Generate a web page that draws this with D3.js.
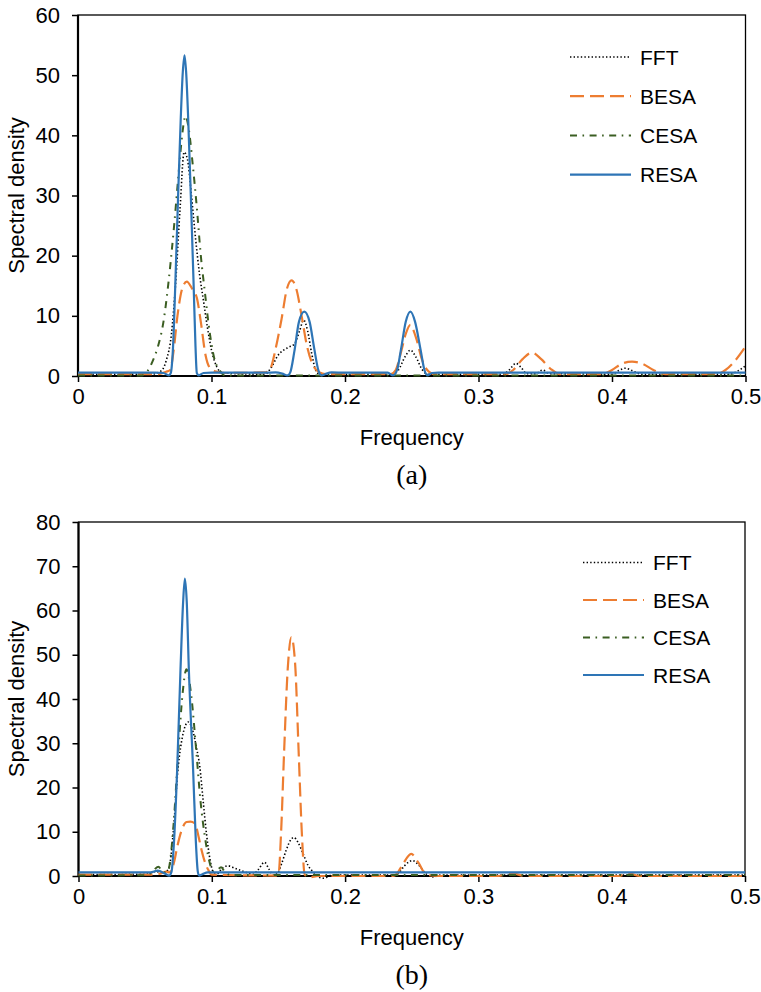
<!DOCTYPE html>
<html>
<head>
<meta charset="utf-8">
<script src="https://cdn.jsdelivr.net/npm/d3@7"></script>
<style>
    body { margin: 0; background: #fff; }
    svg text { font-family: "Liberation Sans", Arial, Helvetica, sans-serif; fill: #000; }
</style>
</head>
<body>
<div id="chart"></div>
<script>
// series names and legend order
const seriesNames = ["FFT", "BESA", "CESA", "RESA"];
const freqTicks = [0, 0.1, 0.2, 0.3, 0.4, 0.5];
const densityTicksA = [0, 10, 20, 30, 40, 50, 60];
const densityTicksB = [0, 10, 20, 30, 40, 50, 60, 70, 80];

// panel (a): [frequency, spectral density]
const fftA = [[0, 0.3], [0.055, 0.3], [0.062, 0.8], [0.066, 2.5], [0.07, 7], [0.073, 15], [0.0765, 28], [0.0795, 37.2], [0.082, 36], [0.085, 30], [0.088, 23], [0.091, 17], [0.094, 12.5], [0.097, 8], [0.1, 4.3], [0.104, 1.5], [0.108, 0.5], [0.14, 0.3], [0.145, 1.5], [0.15, 3.5], [0.154, 4.3], [0.158, 4.8], [0.162, 5.3], [0.166, 7.5], [0.169, 9.3], [0.172, 7.5], [0.175, 3.8], [0.178, 1], [0.181, 0.3], [0.236, 0.3], [0.24, 1], [0.245, 3.2], [0.249, 4.3], [0.253, 3.2], [0.258, 1], [0.262, 0.3], [0.318, 0.3], [0.323, 1], [0.328, 2.1], [0.332, 1.4], [0.336, 0.4], [0.343, 0.4], [0.348, 1], [0.353, 0.4], [0.4, 0.3], [0.405, 0.9], [0.41, 1.3], [0.416, 0.8], [0.422, 0.3], [0.488, 0.3], [0.494, 0.8], [0.5, 1.7]];
const besaA = [[0, 0.3], [0.06, 0.3], [0.066, 0.7], [0.069, 1], [0.0715, 4], [0.0745, 10], [0.078, 14.5], [0.0815, 15.7], [0.0855, 14.5], [0.089, 13], [0.092, 9], [0.0955, 3.5], [0.099, 1.3], [0.104, 0.7], [0.11, 0.5], [0.14, 0.6], [0.144, 1.2], [0.148, 4.5], [0.1525, 9.5], [0.1565, 14.5], [0.16, 15.9], [0.1635, 14.5], [0.1675, 10], [0.1715, 5], [0.176, 1.8], [0.181, 0.6], [0.186, 0.3], [0.234, 0.3], [0.238, 1], [0.242, 4], [0.2455, 7], [0.249, 8.5], [0.253, 6.5], [0.258, 2.5], [0.263, 0.7], [0.268, 0.3], [0.32, 0.3], [0.326, 1], [0.333, 2.8], [0.34, 3.9], [0.347, 2.8], [0.354, 1.2], [0.361, 0.3], [0.392, 0.3], [0.4, 1], [0.407, 2], [0.415, 2.4], [0.423, 2], [0.431, 1], [0.44, 0.3], [0.478, 0.3], [0.485, 1], [0.492, 2.5], [0.5, 4.9]];
const cesaA = [[0, 0.1], [0.048, 0.1], [0.052, 0.8], [0.056, 2.5], [0.06, 5], [0.064, 9], [0.068, 16], [0.072, 25], [0.0755, 34], [0.078, 40], [0.0805, 43.2], [0.083, 41], [0.086, 35], [0.089, 28], [0.092, 20], [0.095, 14], [0.0985, 7.5], [0.102, 3], [0.106, 1], [0.11, 0.1], [0.5, 0.1]];
const resaA = [[0, 0.55], [0.058, 0.55], [0.064, 0.5], [0.068, 0.1], [0.0695, 0.5], [0.071, 4], [0.073, 16], [0.075, 30], [0.077, 43], [0.0785, 50.5], [0.0798, 53.3], [0.081, 50.5], [0.0825, 43], [0.0845, 30], [0.0865, 16], [0.088, 5], [0.089, 0.5], [0.0905, 0.1], [0.094, 0.5], [0.1, 0.55], [0.14, 0.55], [0.148, 0.6], [0.153, 0.4], [0.157, 0.1], [0.159, 0.6], [0.162, 4], [0.1655, 9], [0.1695, 10.7], [0.1735, 9], [0.177, 4.5], [0.18, 1], [0.1825, 0.1], [0.185, 0.3], [0.19, 0.6], [0.2, 0.55], [0.232, 0.55], [0.236, 0.1], [0.239, 1], [0.242, 4.5], [0.2455, 9], [0.249, 10.7], [0.2525, 9], [0.2565, 4.5], [0.2595, 1], [0.262, 0.1], [0.265, 0.5], [0.27, 0.55], [0.5, 0.55]];

// panel (b)
const fftB = [[0, 0], [0.01, 0.3], [0.05, 0.4], [0.058, 1], [0.064, 0.6], [0.068, 2], [0.071, 9.6], [0.0748, 24.7], [0.078, 31.5], [0.0823, 34.8], [0.086, 32.5], [0.0885, 29], [0.091, 24.7], [0.0935, 17], [0.096, 9.6], [0.0985, 4], [0.101, 1], [0.104, 0.5], [0.108, 1.8], [0.112, 2.3], [0.117, 1.8], [0.124, 1], [0.131, 0.4], [0.135, 1.5], [0.1395, 3.1], [0.143, 1.5], [0.146, 0.2], [0.149, 0.5], [0.1525, 2.9], [0.156, 6], [0.1595, 8.3], [0.1617, 8.7], [0.1645, 7.7], [0.1684, 5.1], [0.172, 2.5], [0.1772, 0.6], [0.1805, -0.3], [0.1834, -0.5], [0.187, -0.2], [0.19, 0.2], [0.236, 0.2], [0.24, 0.6], [0.2445, 2.3], [0.2505, 3.5], [0.256, 2.2], [0.261, 0.4], [0.266, -0.2], [0.272, 0.2], [0.5, 0.2]];
const besaB = [[0, 0.3], [0.055, 0.3], [0.062, 0.6], [0.066, 1], [0.068, 0.8], [0.0698, 1.4], [0.072, 3.5], [0.0736, 5.9], [0.077, 10], [0.081, 12.2], [0.084, 12.3], [0.0875, 11.8], [0.09, 9], [0.0923, 5.9], [0.095, 3], [0.0973, 1.4], [0.1, 0.3], [0.148, 0.1], [0.15, 0.3], [0.152, 10], [0.1542, 27.7], [0.157, 47], [0.1597, 54], [0.1625, 48], [0.1652, 27.7], [0.1675, 10], [0.1697, 0.3], [0.173, -0.3], [0.18, 0], [0.236, 0], [0.2388, 0.5], [0.243, 2.5], [0.2496, 5], [0.255, 3], [0.2608, 0.3], [0.27, 0], [0.315, 0], [0.325, 0.6], [0.335, 0], [0.405, 0], [0.413, 0.6], [0.421, 0], [0.5, 0]];
const cesaB = [[0, 0.1], [0.05, 0.2], [0.055, 0.8], [0.0598, 2.1], [0.064, 0.8], [0.067, 1], [0.069, 4], [0.071, 10.4], [0.0748, 27.7], [0.078, 41], [0.081, 46.7], [0.0845, 41], [0.0885, 27.7], [0.0915, 17], [0.0948, 8.9], [0.098, 3.5], [0.101, 1], [0.104, 1.3], [0.107, 2], [0.11, 0.8], [0.115, 0.2], [0.5, 0.2]];
const resaB = [[0, 0.8], [0.054, 0.8], [0.0595, 1.2], [0.065, 0.5], [0.068, 0.1], [0.0698, 1], [0.0715, 7], [0.074, 23.9], [0.0765, 46.5], [0.0785, 62], [0.0798, 67.2], [0.0812, 62], [0.0828, 46.5], [0.086, 23.9], [0.088, 8], [0.0895, 1], [0.0905, 0.1], [0.093, 0.4], [0.097, 0.8], [0.5, 0.8]];

// line styles per series
const styles = {
    FFT: { color: "#000000", width: 1.6, dash: "1.4,2.2", cap: "butt" },
    BESA: { color: "#ED7D31", width: 2.2, dash: "14,6", cap: "butt" },
    CESA: { color: "#3B5E22", width: 2, dash: "7,5.5,1.6,5.5", cap: "butt" },
    RESA: { color: "#2E75B6", width: 2.2, dash: null, cap: "butt" }
};

const svg = d3.select("#chart")
    .append("svg")
    .attr("width", 761)
    .attr("height", 992);

function drawPanel(opt) {
    const x = d3.scaleLinear().domain([0, 0.5]).range([opt.left, opt.right]);
    const y = d3.scaleLinear().domain([0, opt.yMax]).range([opt.bottom, opt.top]);
    const g = svg.append("g");

    // frame
    g.append("rect")
        .attr("x", opt.left).attr("y", opt.top)
        .attr("width", opt.right - opt.left).attr("height", opt.bottom - opt.top)
        .attr("fill", "none").attr("stroke", "#000").attr("stroke-width", 1.3);

    const xAxis = g.append("g")
        .attr("transform", `translate(0,${opt.bottom})`)
        .call(d3.axisBottom(x).tickValues(freqTicks).tickSize(6).tickPadding(6)
            .tickFormat(d => d === 0 ? "0" : d3.format(".1f")(d)));
    const yAxis = g.append("g")
        .attr("transform", `translate(${opt.left},0)`)
        .call(d3.axisLeft(y).tickValues(opt.yTicks).tickSize(6).tickPadding(12));
    [xAxis, yAxis].forEach(a => {
        a.select(".domain").attr("stroke-width", 2).attr("d", null);
        a.selectAll(".tick line").attr("stroke-width", 1.5);
        a.selectAll("text").style("font-size", "22px").attr("fill", "#000");
    });
    // axis lines drawn thicker than frame
    g.append("line").attr("x1", opt.left).attr("x2", opt.right)
        .attr("y1", opt.bottom).attr("y2", opt.bottom)
        .attr("stroke", "#000").attr("stroke-width", 2.2);
    g.append("line").attr("x1", opt.left).attr("x2", opt.left)
        .attr("y1", opt.top).attr("y2", opt.bottom + 1)
        .attr("stroke", "#000").attr("stroke-width", 2.2);

    // curves
    const line = d3.line()
        .x(d => x(d[0]))
        .y(d => y(d[1]))
        .curve(d3.curveMonotoneX);
    seriesNames.forEach((name, i) => {
        const s = styles[name];
        g.append("path")
            .datum(opt.series[i])
            .attr("d", line)
            .attr("fill", "none")
            .attr("stroke", s.color)
            .attr("stroke-width", s.width)
            .attr("stroke-dasharray", s.dash)
            .attr("stroke-linecap", s.cap)
            .attr("stroke-linejoin", "round");
    });

    // legend
    seriesNames.forEach((name, i) => {
        const s = styles[name];
        const ly = opt.legY + i * opt.legStep;
        g.append("line")
            .attr("x1", opt.legX).attr("x2", opt.legX + 61)
            .attr("y1", ly).attr("y2", ly)
            .attr("stroke", s.color)
            .attr("stroke-width", s.width)
            .attr("stroke-dasharray", s.dash);
        g.append("text")
            .attr("x", opt.legX + 70).attr("y", ly)
            .attr("dy", "0.36em")
            .style("font-size", "21px")
            .text(name);
    });

    // axis titles
    g.append("text")
        .attr("x", (opt.left + opt.right) / 2).attr("y", opt.bottom + 69)
        .attr("text-anchor", "middle")
        .style("font-size", "22px")
        .text("Frequency");
    g.append("text")
        .attr("transform", `translate(24,${(opt.top + opt.bottom) / 2}) rotate(-90)`)
        .attr("text-anchor", "middle")
        .style("font-size", "22px")
        .text("Spectral density");
    g.append("text")
        .attr("x", (opt.left + opt.right) / 2).attr("y", opt.bottom + 108)
        .attr("text-anchor", "middle")
        .style("font-family", "'Liberation Serif', 'Times New Roman', serif")
        .style("font-size", "28px")
        .text(opt.label);
}

drawPanel({
    left: 78, right: 745.5, top: 15, bottom: 376, yMax: 60, yTicks: densityTicksA,
    series: [fftA, besaA, cesaA, resaA], label: "(a)",
    legX: 570, legY: 57, legStep: 39.2
});
drawPanel({
    left: 78.5, right: 745, top: 522, bottom: 876, yMax: 80, yTicks: densityTicksB,
    series: [fftB, besaB, cesaB, resaB], label: "(b)",
    legX: 583, legY: 562.5, legStep: 37.5
});
</script>
</body>
</html>
